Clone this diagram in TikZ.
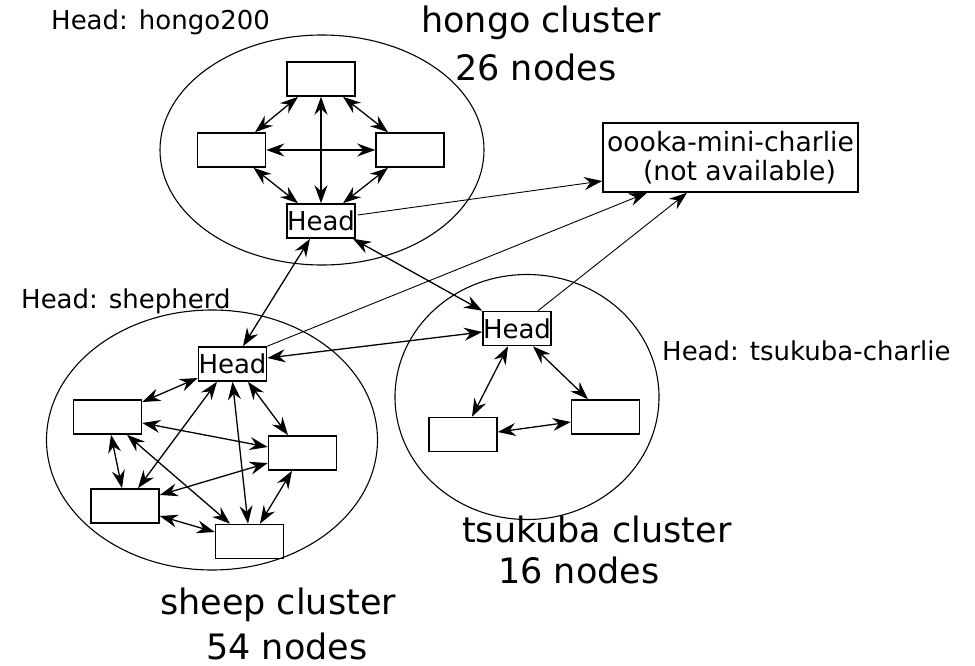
\documentclass[tikz,border=0pt]{standalone}
\usepackage{fontspec}
\setmainfont{DejaVu Sans}
\usetikzlibrary{arrows.meta,positioning,shapes.geometric}

\begin{document}
\begin{tikzpicture}[x = 1pt, y = -1pt,
		box_node/.style = {rectangle, draw, line width = 1.6pt, minimum width = 68pt, minimum height = 34pt, inner sep = 0pt, font = \fontsize{26}{29}\selectfont},
		cluster_node/.style = {ellipse, draw, line width = 1.1pt, inner sep = 0pt},
		small_text/.style = {anchor = base west, inner sep = 0pt, font = \fontsize{26}{29}\selectfont},
		big_text/.style = {anchor = base west, inner sep = 0pt, font = \fontsize{35}{40}\selectfont},
		link/.style = {arrows = {Stealth[length=18pt,width=13pt,inset=6pt]-Stealth[length=18pt,width=13pt,inset=6pt]}, line width = 1.3pt},
		one_way/.style = {arrows = {-Stealth[length=18pt,width=13pt,inset=6pt]}, line width = 0.9pt},
		]
		\useasboundingbox (0,0) rectangle (975,666);

		%clusters
		\node[cluster_node, minimum width = 324pt, minimum height = 230pt](hongo) at (322,150){};
		\node[cluster_node, minimum width = 331pt, minimum height = 260pt](sheep) at (212,440){};
		\node[cluster_node, minimum width = 264pt, minimum height = 245pt](tsukuba) at (527,397){};

		%hongo
		\node[box_node](ht) at (321,79){};
		\node[box_node](hl) at (231.5,150){};
		\node[box_node](hr) at (410,150){};
		\node[box_node](hh) at (321,221){Head};

		\draw[link]([xshift = -23pt]ht.south) -- ([xshift = 23.5pt]hl.north);
		\draw[link]([xshift = 22pt]ht.south) -- ([xshift = -22pt]hr.north);
		\draw[link](ht.south) -- (hh.north);
		\draw[link](hl.east) -- (hr.west);
		\draw[link]([xshift = 22pt]hl.south) -- ([xshift = -23pt]hh.north);
		\draw[link]([xshift = -22pt]hr.south) -- ([xshift = 22pt]hh.north);

		%sheep
		\node[box_node](sh) at (232.5,364){Head};
		\node[box_node](sa) at (107.5,417){};
		\node[box_node](sb) at (302.5,453){};
		\node[box_node](sc) at (125,506){};
		\node[box_node](sd) at (249.5,541.5){};

		\draw[link]([yshift = -14pt]sh.west) -- ([yshift = 15pt]sa.east);
		\draw[link]([xshift = -15.5pt]sh.south) -- ([xshift = 13pt]sc.north);
		\draw[link](sh.south) -- ([xshift = -1.5pt]sd.north);
		\draw[link]([xshift = 15.5pt]sh.south) -- ([xshift = -14.5pt]sb.north);
		\draw[link]([yshift = -6pt]sa.east) -- ([yshift = 6pt]sb.west);
		\draw[link]([xshift = 3.5pt]sa.south) -- ([xshift = -3pt]sc.north);
		\draw[link]([xshift = 19.5pt]sa.south) -- ([xshift = -19.5pt]sd.north);
		\draw[link]([yshift = -10pt]sb.west) -- ([yshift = 11pt]sc.east);
		\draw[link]([xshift = -10.5pt]sb.south) -- ([xshift = 10.5pt]sd.north);
		\draw[link]([yshift = -10pt]sc.east) -- ([yshift = 9.5pt]sd.west);

		%tsukuba
		\node[box_node](th) at (517,328.5){Head};
		\node[box_node](tl) at (463,434.5){};
		\node[box_node](tr) at (605.5,417){};

		\draw[link]([xshift = -9pt]th.south) -- ([xshift = 9pt]tl.north);
		\draw[link]([xshift = 16pt]th.south) -- ([xshift = -17.5pt]tr.north);
		\draw[link]([yshift = 2.5pt]tl.east) -- ([yshift = -5pt]tr.west);

		%ooka
		\node[box_node, minimum width = 255pt, minimum height = 69pt, align = center, font = \fontsize{26.6}{29}\selectfont](ok) at (730.5,157.5){oooka-mini-charlie\\\hspace*{18pt}(not available)};

		%links between heads
		\draw[link]([xshift = -11pt]hh.south) -- ([xshift = 10.5pt]sh.north);
		\draw[link]([xshift = 32pt]hh.south) -- (th.north west);
		\draw[link]([yshift = 6pt]sh.east) -- ([yshift = -3.5pt]th.west);
		\draw[one_way]([xshift = 2pt, yshift = 6pt]hh.east) -- ([yshift = -23.5pt]ok.west);
		\draw[one_way](sh.north east) -- ([xshift = -83.5pt]ok.south);
		\draw[one_way]([xshift = 21pt]th.north) -- ([xshift = -43.5pt]ok.south);

		%labels
		\node[small_text](hongo_head) at (51,30){Head: hongo200};
		\node[small_text](sheep_head) at (21,308){Head: shepherd};
		\node[small_text](tsukuba_head) at (662,360){Head: tsukuba-charlie};
		\node[big_text](hongo_name) at (421,33){hongo cluster};
		\node[big_text](hongo_count) at (455,81){26 nodes};
		\node[big_text](sheep_name) at (160,614){sheep cluster};
		\node[big_text](sheep_count) at (206,659){54 nodes};
		\node[big_text](tsukuba_name) at (462,542){tsukuba cluster};
		\node[big_text](tsukuba_count) at (498,583){16 nodes};

\end{tikzpicture}
\end{document}
